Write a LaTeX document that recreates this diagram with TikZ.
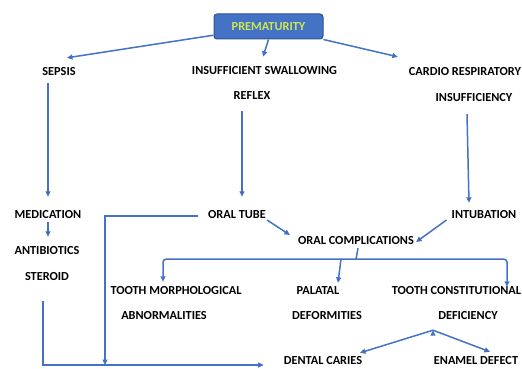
\documentclass[tikz,border=0pt]{standalone}
\usepackage{fontspec}
\setmainfont{Carlito}
\usetikzlibrary{calc, positioning, arrows.meta}

\definecolor{linkblue}{RGB}{68,114,196}
\definecolor{boxedge}{RGB}{47,82,143}
\definecolor{boxtext}{RGB}{205,232,80}

\begin{document}
\begin{tikzpicture}[x=1pt, y=-1pt,
        lbl/.style={font=\bfseries\fontsize{12.3}{13}\selectfont, inner sep=0pt, minimum height=14pt},
        prembox/.style={rectangle, rounded corners=3pt, fill=linkblue, draw=boxedge, line width=1pt,
            minimum width=109pt, minimum height=25pt, text=boxtext, font=\bfseries\fontsize{12.3}{13}\selectfont},
        link/.style={draw=linkblue, line width=1.5pt, -{Triangle[length=5.5pt,width=5pt]}},
        bare/.style={draw=linkblue, line width=1.5pt}]
        \useasboundingbox (0,0) rectangle (522,369);

        \node[prembox](prem) at (268.5,26.5){PREMATURITY};
        \node[lbl](sepsis) at (59,72){SEPSIS};
        \node[lbl](swallow) at (264.5,71){INSUFFICIENT SWALLOWING};
        \node[lbl](reflex) at (252,96){REFLEX};
        \node[lbl](cardio) at (465,72){CARDIO RESPIRATORY};
        \node[lbl](insuff) at (474,98){INSUFFICIENCY};
        \node[lbl](medication) at (48,215){MEDICATION};
        \node[lbl](antibio) at (47,251){ANTIBIOTICS};
        \node[lbl](steroid)[below = 11pt of antibio]{STEROID};
        \node[lbl](oraltube) at (237,215){ORAL TUBE};
        \node[lbl](intub) at (484,215){INTUBATION};
        \node[lbl](oralcomp) at (356,241){ORAL COMPLICATIONS};
        \node[lbl](morph) at (176,291){TOOTH MORPHOLOGICAL};
        \node[lbl](abnorm) at (164,316){ABNORMALITIES};
        \node[lbl](palatal) at (318,291){PALATAL};
        \node[lbl](deform) at (327,316){DEFORMITIES};
        \node[lbl](constit) at (456.5,291){TOOTH CONSTITUTIONAL};
        \node[lbl](deficiency) at (468,316){DEFICIENCY};
        \node[lbl](caries) at (323,361){DENTAL CARIES};
        \node[lbl](enamel) at (476,361){ENAMEL DEFECT};

        \coordinate (tubeend) at (105,365);
        \coordinate (bar) at ($(oralcomp.south)+(0,11)$);
        \coordinate (split) at ($(deficiency.south)+(-35,7)$);

        \path[link]
        (prem.189) edge ($(sepsis.north)+(8,-7)$)
        (prem.south) edge ($(swallow.north)+(-1.5,-7)$)
        (prem.south east) edge ($(cardio.north west)+(-11,-8)$)
        ($(medication.north |- sepsis.south)+(0,4)$) edge ($(medication.north)+(0,-11)$)
        ($(oraltube.north |- reflex.south)+(5,8)$) edge ($(oraltube.north)+(5,-11)$)
        ($(insuff.south)+(-7,9)$) edge ($(intub.north)+(-15,-5)$)
        (medication.south) edge ($(antibio.north)+(1,-7)$)
        ($(oraltube.east)+(1,5)$) edge ($(oralcomp.west)+(-8,-6)$)
        ($(intub.west)+(-5,5)$) edge ($(oralcomp.east)+(2,1)$)
        ($(palatal.north |- bar)+(23,0)$) edge ($(palatal.north)+(20,-1)$)
        (split) edge ($(caries.north)+(37,-1)$)
        (split) edge ($(enamel.north)+(14,-2)$);

        \draw[link] ($(oraltube.west)+(-10,1)$) -| (tubeend);
        \draw[link] ($(steroid.south)+(-4,17)$) |- ($(caries.west)+(-20,4)$);

        \draw[bare] ($(oralcomp.south)+(2,0)$) -- (bar);
        \draw[link, rounded corners=3pt] (bar) -| ($(morph.north)+(-13,-2)$);
        \draw[link, rounded corners=3pt] (bar) -| ($(constit.north)+(50.5,3)$);
    \end{tikzpicture}
\end{document}
